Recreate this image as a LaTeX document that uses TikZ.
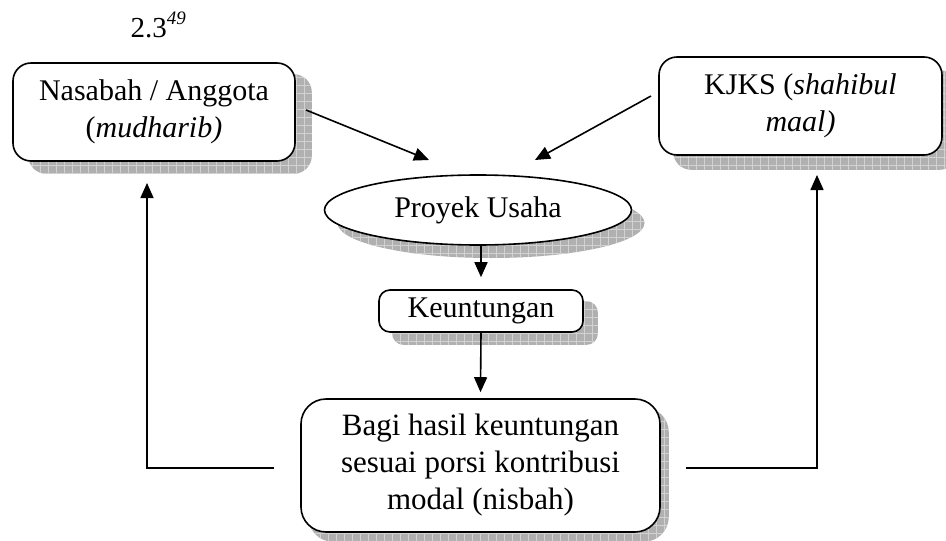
\documentclass[tikz,border=0pt]{standalone}
\usepackage{fontspec}
\setmainfont{Liberation Serif}
\usetikzlibrary{shapes.geometric,arrows.meta,patterns.meta,backgrounds}
\tikzset{
  boxnode/.style={draw=black, line width=1.6pt, fill=white, align=center, inner sep=0pt,
    font=\fontsize{30}{37}\selectfont},
  ellnode/.style={ellipse, draw=black, line width=1.6pt, fill=white, inner sep=0pt,
    font=\fontsize{30}{37}\selectfont},
  shd/.style={fill={rgb,255:red,176;green,176;blue,176},
    postaction={pattern={Hatch[angle=0,distance=8pt,line width=0.7pt]},
      pattern color={rgb,255:red,210;green,210;blue,210}}},
  arr/.style={line width=1.6pt, -{Triangle[length=15pt,width=13pt]}}
}
\begin{document}
\begin{tikzpicture}[x=1pt,y=-1pt]
\useasboundingbox (0,0) rectangle (946,541);

\node[anchor=base west, font=\fontsize{29}{29}\selectfont] (title) at (127,37)
  {2.3\raisebox{0.42em}{\fontsize{19}{19}\selectfont\itshape 49}};

\node[boxnode, rounded corners=18pt, minimum width=282pt, minimum height=98pt] (nas) at (154,112)
  {Nasabah / Anggota\\(\textit{mudharib)}};
\node[boxnode, rounded corners=18pt, minimum width=283pt, minimum height=98pt] (kjks) at (800.5,106)
  {KJKS (\textit{shahibul}\\\textit{maal)}};
\node[ellnode, minimum width=307pt, minimum height=70pt] (proy) at (478,210) {Proyek Usaha};
\node[boxnode, rounded corners=11pt, minimum width=204pt, minimum height=42pt] (keu) at (481,311) {Keuntungan};
\node[boxnode, rounded corners=25pt, minimum width=359pt, minimum height=133pt,
  font=\fontsize{31}{37}\selectfont] (bagi) at (480.5,465.5)
  {Bagi hasil keuntungan\\sesuai porsi kontribusi\\modal (nisbah)};

\begin{scope}[on background layer]
  \path[shd, rounded corners=18pt] ([shift={(16,12)}]nas.north west) rectangle ([shift={(16,12)}]nas.south east);
  \path[shd, rounded corners=18pt] ([shift={(15,14)}]kjks.north west) rectangle ([shift={(15,14)}]kjks.south east);
  \path[shd] ([shift={(13,13)}]proy.center) ellipse [x radius=153.5pt, y radius=35pt];
  \path[shd, rounded corners=11pt] ([shift={(14,12)}]keu.north west) rectangle ([shift={(14,12)}]keu.south east);
  \path[shd, rounded corners=25pt] ([shift={(8,9)}]bagi.north west) rectangle ([shift={(8,9)}]bagi.south east);
\end{scope}

\coordinate (n1) at (306,110);
\coordinate (p1) at (429,160);
\coordinate (k1) at (651,96);
\coordinate (p2) at (535,160);
\coordinate (b1) at (274,468);
\coordinate (b1c) at (147,468);
\coordinate (n2) at (147,183);
\coordinate (b2) at (686,468);
\coordinate (b2c) at (817,468);
\coordinate (k2) at (817,175);

\draw[arr] (keu.north |- proy.south) -- ([shift={(0,-12)}]keu.north);
\draw[arr] (keu.south) -- ([shift={(0,-6)}]bagi.north);
\draw[arr] (n1) -- (p1);
\draw[arr] (k1) -- (p2);
\draw[arr] (b1) -- (b1c) -- (n2);
\draw[arr] (b2) -- (b2c) -- (k2);
\end{tikzpicture}
\end{document}
